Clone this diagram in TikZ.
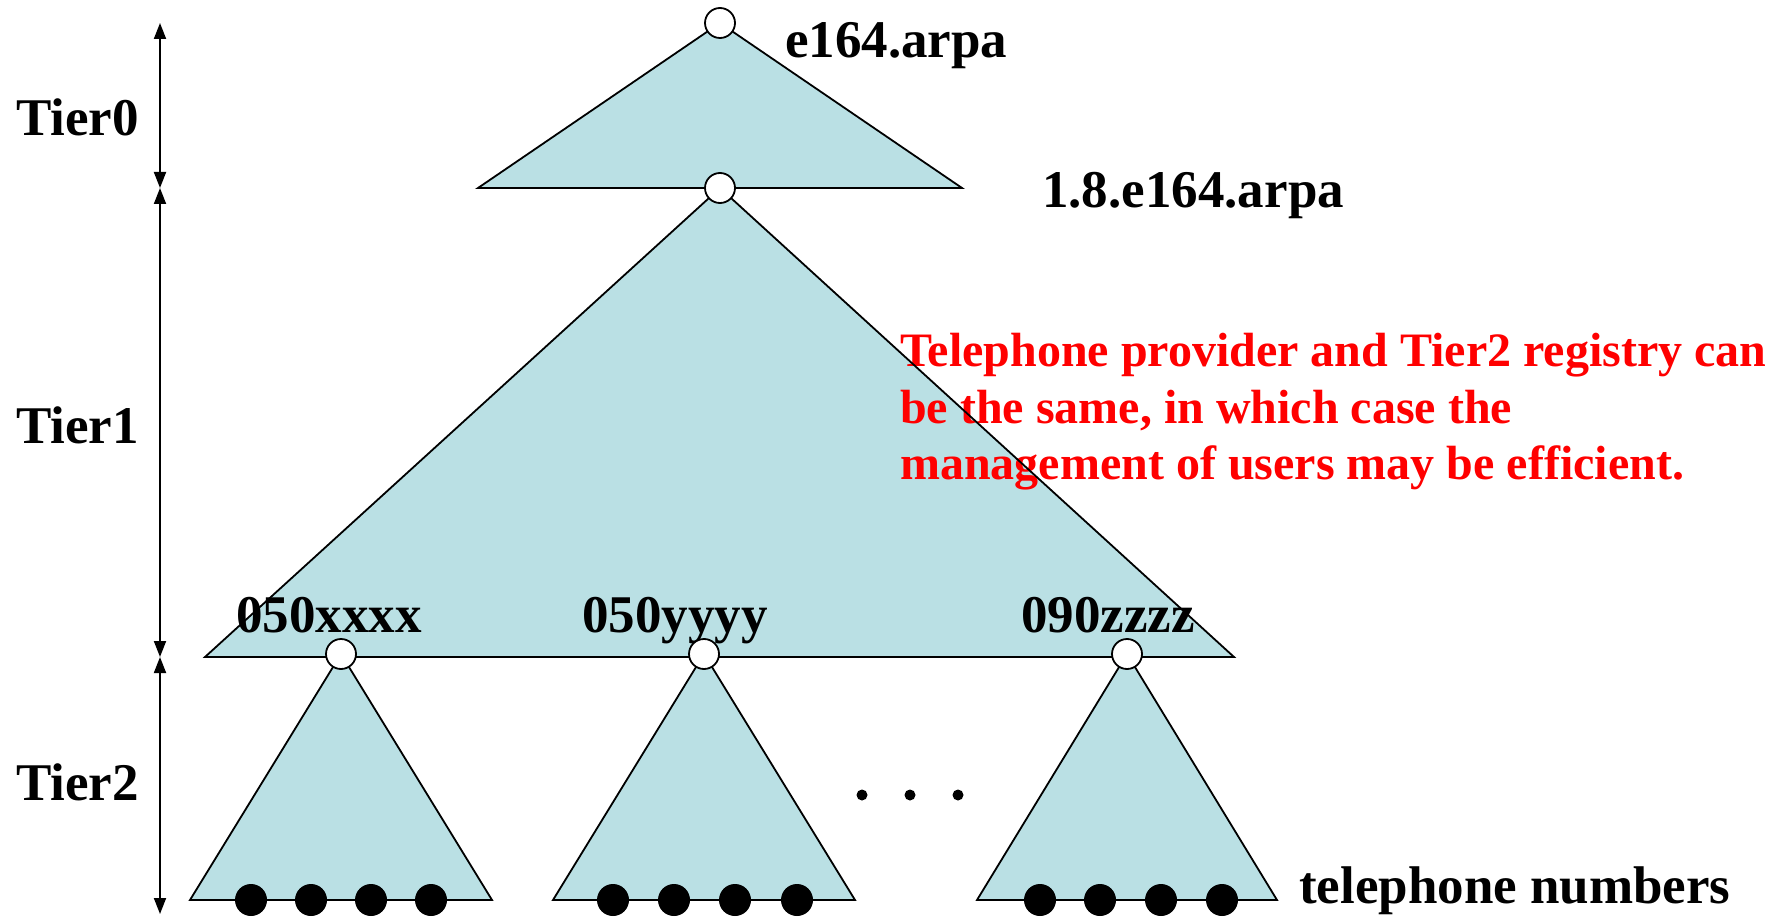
\documentclass[tikz,border=0pt]{standalone}
\usepackage{fontspec}
\setmainfont{Liberation Serif}
\usetikzlibrary{arrows.meta}
\definecolor{trifill}{RGB}{186,224,228}
\begin{document}
\begin{tikzpicture}[x=1pt,y=-1pt,
  trifillst/.style={fill=trifill},
  triline/.style={draw=black, line width=1.8pt, line join=miter},
  hole/.style={circle, draw=black, fill=white, line width=1.8pt, minimum size=30pt, inner sep=0pt},
  leaf/.style={circle, fill=black, minimum size=32pt, inner sep=0pt},
  smalldot/.style={circle, fill=black, minimum size=11pt, inner sep=0pt},
  lbl/.style={font=\fontsize{53}{60}\selectfont\bfseries, inner sep=0pt},
  note/.style={font=\fontsize{48}{56.5}\selectfont\bfseries, text=red, inner sep=0pt, align=left},
  span/.style={{Triangle[length=16pt,width=12pt]}-{Triangle[length=16pt,width=12pt]}, line width=1.8pt},
]
\useasboundingbox (0,0) rectangle (1780,917);

% triangle corners
\coordinate (a0) at (720,23);   \coordinate (l0) at (478,188);  \coordinate (r0) at (962,188);
\coordinate (a1) at (720,188);  \coordinate (l1) at (205,657);  \coordinate (r1) at (1234,657);
\coordinate (a2) at (341,654);  \coordinate (l2) at (190,900);  \coordinate (r2) at (492,900);
\coordinate (a3) at (704,654);  \coordinate (l3) at (553,900);  \coordinate (r3) at (855,900);
\coordinate (a4) at (1127,654); \coordinate (l4) at (977,900);  \coordinate (r4) at (1277,900);

% fills
\foreach \i in {0,...,4} {\fill[trifillst] (a\i) -- (r\i) -- (l\i) -- cycle;}

% labels
\node[lbl, anchor=base west] (e164) at (785,58) {e164.arpa};
\node[lbl, anchor=base west] (e18) at (1042,208) {1.8.e164.arpa};
\node[lbl, anchor=base] (lx) at (329,632) {050xxxx};
\node[lbl, anchor=base] (ly) at (675,632) {050yyyy};
\node[lbl, anchor=base] (lz) at (1108,632) {090zzzz};
\node[lbl, anchor=base west] (tier0) at (16,136) {Tier0};
\node[lbl, anchor=base west] (tier1) at (16,443) {Tier1};
\node[lbl, anchor=base west] (tier2) at (16,800) {Tier2};
\node[lbl, anchor=base west] (tel) at (1299,903) {telephone numbers};
\node[note, anchor=north west] (remark) at (900,333)
  {Telephone provider and Tier2 registry can\\be the same, in which case the\\management of users may be efficient.};

% outlines
\foreach \i in {0,...,4} {\draw[triline] (a\i) -- (r\i) -- (l\i) -- cycle;}

% tier spans
\coordinate (s0) at (160,23);
\coordinate (s1) at (160,188);
\coordinate (s2) at (160,657);
\coordinate (s3) at (160,914);
\draw[span] (s0) -- (s1);
\draw[span] (s1) -- (s2);
\draw[span] (s2) -- (s3);

% domain nodes
\node[hole] (root) at (720,23) {};
\node[hole] (n18) at (720,188) {};
\node[hole] (nx) at (341,654) {};
\node[hole] (ny) at (704,654) {};
\node[hole] (nz) at (1127,654) {};

% telephone numbers (leaves)
\foreach \x [count=\k] in {251,311,371,431} {\node[leaf] (x\k) at (\x,900) {};}
\foreach \x [count=\k] in {613,674,735,797} {\node[leaf] (y\k) at (\x,900) {};}
\foreach \x [count=\k] in {1040,1100,1161,1222} {\node[leaf] (z\k) at (\x,900) {};}

% ellipsis
\foreach \x [count=\k] in {862,910,958} {\node[smalldot] (dots\k) at (\x,795) {};}
\end{tikzpicture}
\end{document}
